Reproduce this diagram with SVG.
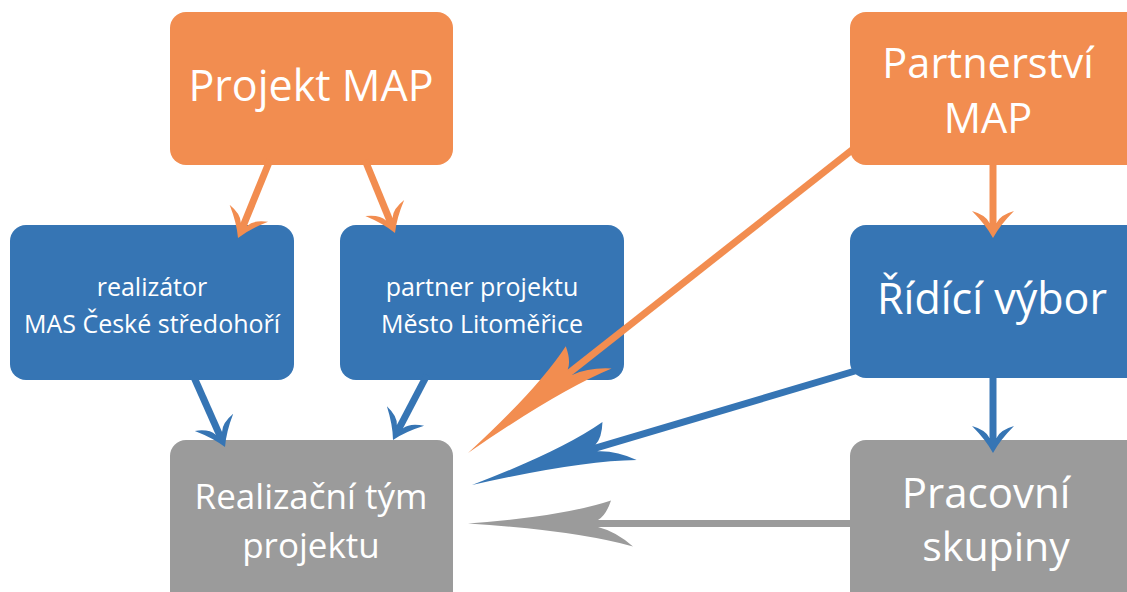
<svg xmlns="http://www.w3.org/2000/svg" width="1127" height="592" viewBox="0 0 1127 592">
<style>
.or{fill:#F28D50}
.bl{fill:#3675B4}
.gr{fill:#9B9B9B}
text{font-family:"Open Sans","DejaVu Sans",sans-serif;fill:#fff;text-anchor:middle}
.big{font-size:43px}
.mid{font-size:35px}
.sm{font-size:25px}
.so{stroke:#F28D50;stroke-width:7;fill:none}
.sb{stroke:#3675B4;stroke-width:7;fill:none}
.sg{stroke:#9B9B9B;stroke-width:7;fill:none}
</style>
<defs>
<path id="sh" d="M0,0 Q-13,-7 -27,-21 Q-23,-7 -15,-3.5 L-15,3.5 Q-23,7 -27,21 Q-13,7 0,0Z"/>
<path id="lh" d="M0,0 Q-95,7 -143,23 Q-138,8 -130,3.5 L-130,-3.5 Q-148,-8 -165,-23 Q-108,-7 0,0Z"/>
</defs>
<g id="projekt-map">
<rect class="or" x="170" y="12" width="283" height="153" rx="16"/>
<text class="big" x="311" y="101">Projekt MAP</text>
</g>
<g id="partnerstvi-map">
<rect class="or" x="850" y="12" width="300" height="153" rx="16"/>
<text class="big" x="988" y="78" style="font-size:41.5px">Partnerství</text>
<text class="big" x="988" y="133" style="font-size:41.5px">MAP</text>
</g>
<g id="realizator">
<rect class="bl" x="10" y="225" width="284" height="155" rx="16"/>
<text class="sm" x="152" y="296">realizátor</text>
<text class="sm" x="152" y="333">MAS České středohoří</text>
</g>
<g id="partner-projektu">
<rect class="bl" x="340" y="225" width="284" height="155" rx="16"/>
<text class="sm" x="482" y="296">partner projektu</text>
<text class="sm" x="482" y="333">Město Litoměřice</text>
</g>
<g id="ridici-vybor">
<rect class="bl" x="850" y="225" width="300" height="153" rx="16"/>
<text class="big" x="992" y="314">Řídící výbor</text>
</g>
<g id="realizacni-tym">
<rect class="gr" x="170" y="440" width="283" height="170" rx="16"/>
<text class="mid" x="311" y="509">Realizační tým</text>
<text class="mid" x="311" y="558">projektu</text>
</g>
<g id="pracovni-skupiny">
<rect class="gr" x="850" y="440" width="300" height="170" rx="16"/>
<text x="986" y="508" style="font-size:42px">Pracovní</text>
<text x="996" y="561" style="font-size:41px">skupiny</text>
</g>
<g id="connectors">
<line class="so" x1="270" y1="160" x2="242" y2="228.8"/>
<use href="#sh" class="or" transform="translate(238,238) rotate(113.7)"/>
<line class="so" x1="365" y1="160" x2="391.2" y2="223.8"/>
<use href="#sh" class="or" transform="translate(395,233) rotate(67.7)"/>
<line class="so" x1="993" y1="160" x2="993" y2="228"/>
<use href="#sh" class="or" transform="translate(993,238) rotate(90)"/>
<line class="sb" x1="993" y1="372" x2="993" y2="443"/>
<use href="#sh" class="bl" transform="translate(993,453) rotate(90)"/>
<line class="sb" x1="193" y1="375" x2="220.9" y2="437.9"/>
<use href="#sh" class="bl" transform="translate(225,447) rotate(66)"/>
<line class="sb" x1="427" y1="375" x2="397.6" y2="431.1"/>
<use href="#sh" class="bl" transform="translate(393,440) rotate(117.6)"/>
<line class="so" x1="852" y1="150" x2="562" y2="378.5"/>
<use href="#lh" class="or" transform="translate(468,453) rotate(141.6)"/>
<line class="sb" x1="855" y1="371" x2="587" y2="450.7"/>
<use href="#lh" class="bl" transform="translate(472,485) rotate(163.4)"/>
<line class="sg" x1="852" y1="523.5" x2="588" y2="523.5"/>
<use href="#lh" class="gr" transform="translate(468,523.5) rotate(180)"/>
</g>
</svg>
